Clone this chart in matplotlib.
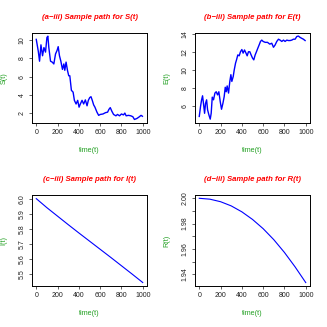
import matplotlib
matplotlib.use("Agg")
import matplotlib.pyplot as plt
import numpy as np

plt.rcParams['font.family'] = ['Liberation Sans', 'DejaVu Sans']

# S(t) sample path
s_t = [0, 19, 31, 44, 59, 72, 87, 100, 109, 118, 134, 150, 165, 181, 196, 206, 218, 231, 246, 259, 268, 280, 293, 305, 315, 330, 346, 358, 374, 389, 402, 414, 430, 445, 461, 477, 489, 502, 514, 526, 539, 551, 570, 586, 601, 626, 651, 670, 682, 695, 710, 726, 748, 763, 782, 800, 819, 832, 844, 866, 888, 907, 922, 944, 963, 984, 997]
s_v = [10.1, 8.8, 7.7, 9.5, 8.3, 9.2, 8.7, 10.3, 10.45, 9.2, 7.7, 7.6, 7.4, 8.5, 8.9, 9.3, 8.3, 7.7, 6.8, 7.4, 6.7, 7.6, 6.7, 6.1, 6.1, 4.5, 4.3, 3.4, 3.0, 3.4, 2.65, 3.0, 3.4, 3.0, 3.45, 2.8, 3.4, 3.7, 3.8, 3.4, 2.9, 2.65, 2.1, 1.75, 1.85, 1.9, 2.05, 2.1, 2.4, 2.6, 2.2, 1.85, 1.7, 1.85, 1.7, 1.9, 1.8, 2.0, 1.7, 1.75, 1.7, 1.6, 1.3, 1.4, 1.55, 1.75, 1.65]

# E(t) sample path
e_t = [0, 12, 22, 31, 41, 50, 59, 69, 78, 91, 103, 112, 122, 134, 147, 159, 172, 184, 197, 209, 222, 234, 244, 253, 262, 275, 287, 297, 306, 319, 328, 341, 350, 362, 375, 387, 400, 412, 425, 437, 450, 462, 475, 487, 500, 512, 525, 537, 550, 562, 575, 587, 600, 619, 641, 662, 681, 697, 712, 728, 744, 759, 775, 791, 806, 822, 837, 853, 869, 884, 900, 916, 931, 947, 962, 978, 994]
e_v = [4.85, 5.96, 6.7, 7.15, 6.15, 5.2, 6.3, 6.7, 5.6, 5.0, 4.55, 5.2, 7.0, 6.7, 7.45, 7.6, 7.25, 7.6, 6.5, 5.65, 6.3, 7.05, 8.1, 7.6, 8.25, 7.45, 8.75, 9.5, 8.75, 9.3, 10.0, 10.8, 11.15, 11.7, 11.6, 12.05, 12.3, 11.9, 12.25, 11.95, 11.6, 12.05, 12.05, 11.7, 11.35, 11.15, 11.7, 12.05, 12.45, 12.8, 13.2, 13.35, 13.2, 13.1, 13.1, 12.9, 13.0, 12.55, 12.8, 13.2, 13.45, 13.35, 13.2, 13.35, 13.2, 13.35, 13.3, 13.3, 13.35, 13.45, 13.45, 13.75, 13.8, 13.65, 13.55, 13.45, 13.3]

# I(t) and R(t)
ir_t = [0, 100, 200, 300, 400, 500, 600, 700, 800, 900, 1000]
i_v = [6.0, 5.94, 5.884, 5.828, 5.773, 5.719, 5.665, 5.611, 5.556, 5.501, 5.445]
r_v = [2.0, 1.9993, 1.9973, 1.994, 1.9893, 1.9833, 1.976, 1.9673, 1.9572, 1.9458, 1.9334]

titles = ["(a\u2212iii) Sample path for S(t)", "(b\u2212iii) Sample path for E(t)",
          "(c\u2212iii) Sample path for I(t)", "(d\u2212iii) Sample path for R(t)"]
ylabels = ["S(t)", "E(t)", "I(t)", "R(t)"]
xticks = [0, 200, 400, 600, 800, 1000]
yticks = [[2, 4, 6, 8, 10], [6, 8, 10, 12, 14],
          [5.5, 5.6, 5.7, 5.8, 5.9, 6.0], [1.94, 1.95, 1.96, 1.97, 1.98, 1.99, 2.00]]
ytlabels = [["2", "4", "6", "8", "10"], ["6", "8", "10", "12", "14"],
            ["5.5", "5.6", "5.7", "5.8", "5.9", "6.0"],
            ["1.94", "", "1.96", "", "1.98", "", "2.00"]]
ylims = [(0.91, 10.8), (4.12, 14.14), (5.422, 6.024), (1.9307, 2.0026)]

fig = plt.figure(figsize=(3.27, 3.27), dpi=100)
W = 327.0
boxes = [(32, 33, 147, 123), (195, 33, 310, 123), (32, 195, 147, 286), (195, 195, 310, 286)]
data = [(s_t, s_v, 1.0), (e_t, e_v, 1.0), (ir_t, i_v, 0.8), (ir_t, r_v, 0.8)]

for k in range(4):
    l, t, r, b = boxes[k]
    ax = fig.add_axes([l / W, 1 - b / W, (r - l) / W, (b - t) / W])
    x, y, lw = data[k]
    ax.plot(x, y, color='blue', lw=lw)
    ax.set_xlim(-40, 1040)
    ax.set_ylim(*ylims[k])
    ax.set_xticks(xticks)
    ax.set_xticklabels([str(v) for v in xticks], fontsize=5)
    ax.set_yticks(yticks[k])
    ax.set_yticklabels(ytlabels[k], fontsize=5, rotation=90, va='center')
    ax.tick_params(length=2.5, width=0.5, pad=2, colors='#222222')
    for sp in ax.spines.values():
        sp.set_linewidth(0.7)
    ax.set_title(titles[k], color='red', fontsize=5.6, fontweight='bold', fontstyle='italic', pad=10)
    ax.set_xlabel("time(t)", color='#22a022', fontsize=5.2, labelpad=8)
    ax.set_ylabel(ylabels[k], color='#22a022', fontsize=5.2, labelpad=8)

fig.savefig("out.png", dpi=100)
